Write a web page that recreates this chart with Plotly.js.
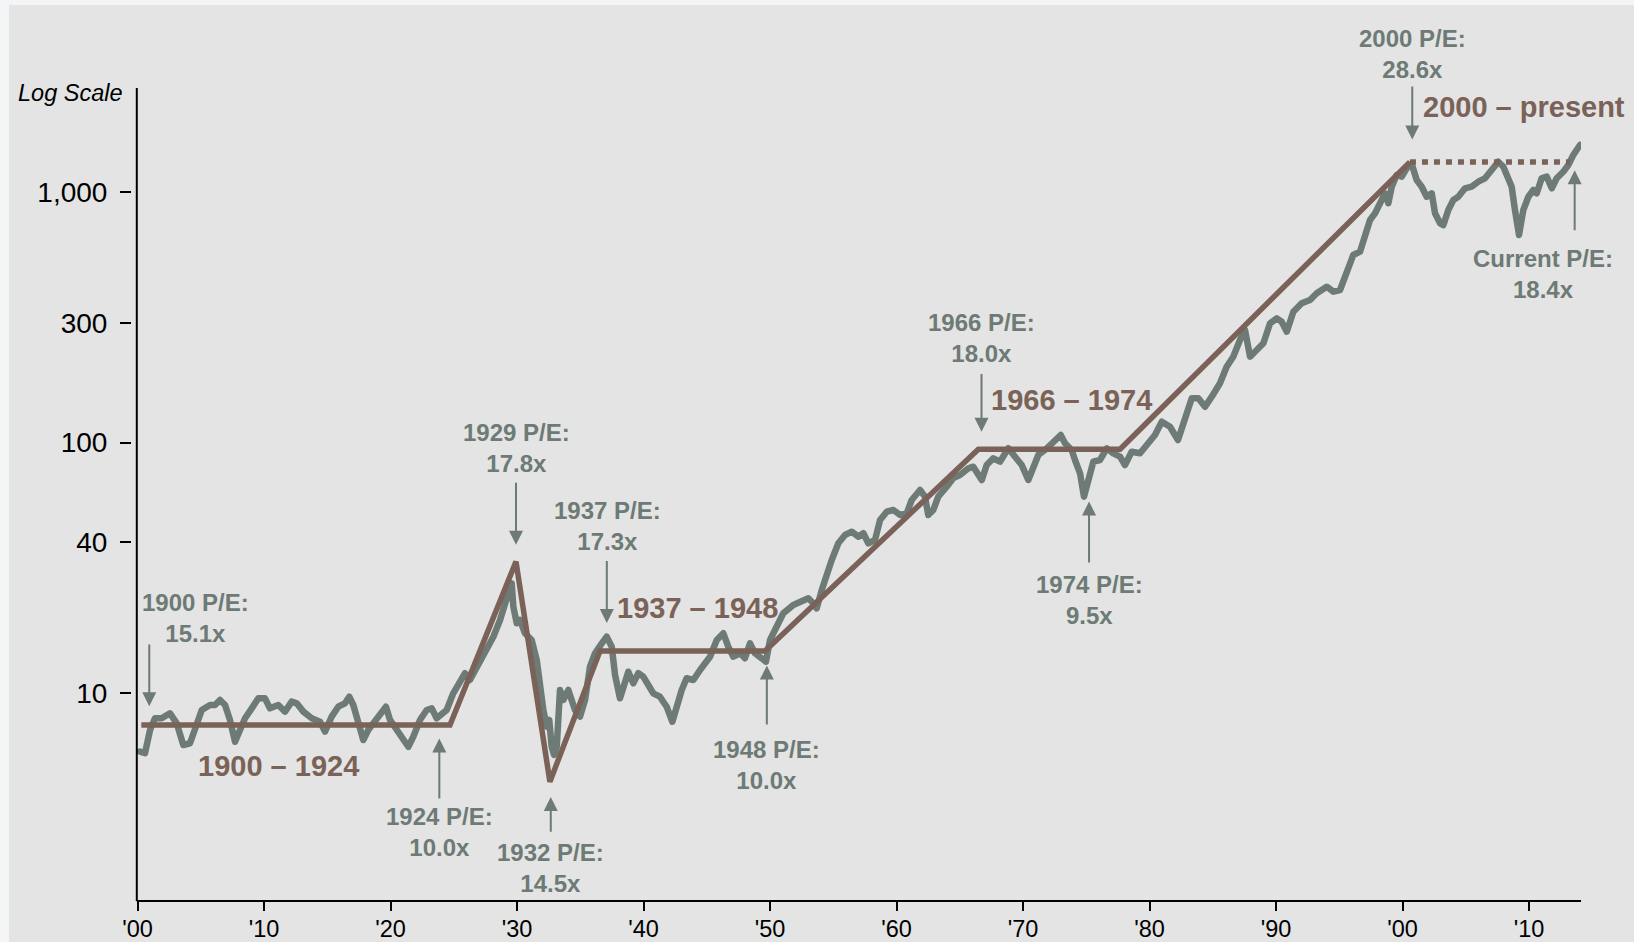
<!DOCTYPE html>
<html><head><meta charset="utf-8">
<script src="https://cdn.plot.ly/plotly-3.0.1.min.js"></script>
<style>
html,body{margin:0;padding:0;background:#f3f5f6;overflow:hidden;}
#chart{position:absolute;left:9px;top:5px;width:1625px;height:937px;}
.scatterlayer .trace:first-child path.js-line{stroke-linejoin:round;stroke-linecap:round;}
</style></head><body><div id="chart"></div>
<script>
// S&P 500 index (log scale)
const seriesYears = [1900.20,1900.59,1900.99,1901.38,1901.91,1902.57,1903.10,1903.62,1904.15,1904.55,1905.08,1905.73,1906.13,1906.52,1906.92,1907.31,1907.71,1908.10,1908.50,1909.03,1909.55,1910.08,1910.47,1911.13,1911.66,1912.19,1912.59,1913.11,1913.77,1914.43,1914.82,1915.35,1915.87,1916.40,1916.74,1917.06,1917.45,1917.85,1918.24,1918.77,1919.30,1919.64,1919.96,1920.49,1921.01,1921.41,1921.80,1922.33,1922.86,1923.26,1923.65,1924.05,1924.44,1924.96,1925.49,1925.89,1926.28,1926.68,1927.08,1927.60,1928.13,1928.66,1929.05,1929.31,1929.58,1929.71,1929.98,1930.24,1930.63,1931.16,1931.56,1931.82,1932.08,1932.35,1932.55,1932.74,1932.93,1933.14,1933.40,1933.66,1934.06,1934.32,1934.58,1934.98,1935.38,1935.77,1936.17,1936.70,1937.09,1937.49,1937.75,1938.14,1938.54,1938.80,1939.19,1939.59,1939.98,1940.38,1940.77,1941.30,1941.83,1942.28,1942.62,1943.02,1943.41,1943.94,1944.47,1945.26,1945.79,1946.31,1946.70,1947.10,1947.63,1948.02,1948.42,1948.81,1949.34,1949.68,1950.00,1950.53,1951.05,1951.84,1952.51,1953.03,1953.42,1953.69,1954.09,1954.48,1954.88,1955.40,1955.93,1956.46,1956.98,1957.38,1957.77,1958.30,1958.70,1959.23,1959.75,1960.28,1960.81,1961.20,1961.86,1962.25,1962.51,1962.91,1963.30,1963.97,1964.49,1965.02,1965.68,1966.07,1966.74,1967.13,1967.65,1968.18,1968.84,1969.37,1969.90,1970.42,1970.81,1971.21,1971.74,1972.27,1972.66,1972.98,1973.32,1973.85,1974.11,1974.51,1974.82,1975.16,1975.56,1976.09,1976.62,1977.14,1977.67,1978.06,1978.59,1979.25,1979.91,1980.43,1980.97,1981.62,1982.25,1982.81,1983.34,1983.86,1984.39,1984.92,1985.57,1986.10,1986.62,1987.15,1987.55,1987.95,1988.47,1989.00,1989.53,1990.06,1990.45,1990.85,1991.37,1992.03,1992.69,1993.22,1994.01,1994.53,1995.06,1995.59,1996.11,1996.64,1997.04,1997.43,1997.83,1998.22,1998.62,1998.88,1999.15,1999.54,1999.94,2000.33,2000.73,2001.12,2001.52,2001.91,2002.31,2002.57,2002.97,2003.23,2003.62,2004.02,2004.41,2004.94,2005.47,2005.99,2006.52,2007.05,2007.57,2007.97,2008.36,2008.63,2008.89,2009.21,2009.55,2009.95,2010.34,2010.61,2011.00,2011.40,2011.80,2012.19,2012.71,2013.11,2013.50,2014.03];
const seriesValues = [5.85,5.77,7.14,7.95,7.95,8.32,7.59,6.22,6.32,7.36,8.58,8.98,8.98,9.40,8.98,7.83,6.41,7.14,7.95,8.71,9.55,9.55,8.71,8.98,8.45,9.26,9.12,8.45,7.95,7.70,7.03,8.07,8.84,9.12,9.69,8.98,7.83,6.51,7.14,7.70,8.32,8.84,7.83,7.14,6.51,6.12,6.71,7.83,8.58,8.71,7.95,8.32,8.58,10.0,11.30,12.02,11.30,12.39,13.17,14.88,16.81,19.60,22.14,25.04,27.45,22.14,19.01,19.60,17.35,16.31,13.58,10.62,8.58,7.36,7.83,6.12,5.68,6.12,10.31,9.40,10.31,9.40,8.58,8.07,9.40,12.77,14.44,15.82,16.81,15.34,11.83,9.55,11.30,12.19,10.96,12.02,11.65,10.62,10.0,9.69,8.84,7.70,8.84,10.31,11.48,11.30,12.39,13.99,16.31,17.35,15.34,13.99,14.44,13.79,15.82,14.44,13.79,13.37,16.31,18.43,20.84,22.49,23.19,23.92,22.85,21.82,25.81,30.10,34.00,39.63,42.78,44.09,42.11,43.45,39.63,40.85,49.09,52.98,53.82,51.40,52.21,58.98,64.66,60.80,51.40,53.82,60.80,66.65,72.19,74.19,78.89,80.07,70.88,81.34,86.50,83.84,94.82,87.79,81.34,70.88,80.07,89.17,93.35,99.26,102.3,107.1,99.26,93.35,85.17,75.37,60.80,70.88,83.84,85.17,94.82,90.55,87.79,81.34,91.90,90.55,99.26,107.1,121.0,115.6,102.3,126.8,150.1,150.1,138.9,152.3,172.2,200.5,219.9,256.2,280.9,219.9,233.8,248.6,298.7,312.7,303.1,276.5,332.2,358.9,370.0,393.4,418.0,399.3,405.5,487.4,559.4,576.6,661.6,771.2,820.2,912.5,985.4,899.2,1047,1166,1148,1240,1290,1113,1047,955,985.4,820.2,748.2,736.6,845.3,926.8,955,1031.6,1047,1096,1131,1220,1317,1258,1148,1047,845.3,671.9,845.3,955,1016,985.4,1131,1148,1031.6,1131,1201,1278,1401,1536];

// Secular trend segments
const trendYears = [1900.3,1924.7,1929.92,1932.6,1936.56,1949.6,1966.47,1977.67,2000.59];
const trendValues = [7.47,7.47,33.5,4.44,14.75,14.75,94.0,94.0,1313];
const presentYears = [2000.59,2013.24];
const presentValues = [1313,1313];

// Axis ticks
const yTickValues = [10,40,100,300,1000];
const yTickLabels = ['10','40','100','300','1,000'];
const xTickYears = [1900,1910,1920,1930,1940,1950,1960,1970,1980,1990,2000,2010];
const xTickLabels = ["'00","'10","'20","'30","'40","'50","'60","'70","'80","'90","'00","'10"];

// P/E call-outs
const peTexts = ['1900 P/E:<br>15.1x','1924 P/E:<br>10.0x','1929 P/E:<br>17.8x','1932 P/E:<br>14.5x','1937 P/E:<br>17.3x','1948 P/E:<br>10.0x','1966 P/E:<br>18.0x','1974 P/E:<br>9.5x','Current P/E:<br>18.4x'];
const peYears = [1904.62,1923.91,1929.98,1932.62,1937.15,1949.76,1966.73,1975.22,2011.13];
const peValues = [19.96,2.786,95.5,2.011,46.38,5.20,262.0,23.63,471.9];
const arrowYears = [1900.93,1923.86,1929.92,1932.67,1937.1,1949.75,1966.72,1975.22,2000.77,2013.61];
const arrowValues = [8.58,6.82,37.85,3.99,18.46,13.33,106.7,60.13,1564,1258];
const arrowTails = [-67,65,-67,40,-67,64,-63,66,-58,65];

// Period labels
const periodTexts = ['1900 – 1924','1937 – 1948','1966 – 1974','2000 – present'];
const periodYears = [1911.11,1944.27,1973.83,2009.6];
const periodValues = [5.107,21.98,147.4,2186];

const GRAY = '#6d7a76';
const BROWN = '#7a6258';
const FONT = 'Liberation Sans, Arial, Helvetica, sans-serif';

const traces = [
  {x: seriesYears, y: seriesValues, type:'scatter', mode:'lines', line:{color:GRAY, width:6.5}, hoverinfo:'skip', cliponaxis:false},
  {x: trendYears, y: trendValues, type:'scatter', mode:'lines', line:{color:BROWN, width:5.5}, hoverinfo:'skip', cliponaxis:false},
  {x: presentYears, y: presentValues, type:'scatter', mode:'lines', line:{color:BROWN, width:5.5, dash:'6px,6px'}, hoverinfo:'skip', cliponaxis:false}
];

const annotations = [];
peTexts.forEach((t,i)=>annotations.push({x:peYears[i], y:Math.log10(peValues[i]), xref:'x', yref:'y', text:t, showarrow:false,
  xanchor:'center', yanchor:'middle', font:{family:FONT, size:24, color:GRAY, weight:'bold'}}));
annotations.push({x:0.88337, y:1.04207, xref:'paper', yref:'paper', text:'2000 P/E:<br>28.6x', showarrow:false,
  xanchor:'center', yanchor:'middle', font:{family:FONT, size:24, color:GRAY, weight:'bold'}});
arrowYears.forEach((yr,i)=>annotations.push({x:yr, y:Math.log10(arrowValues[i]), xref:'x', yref:'y', text:'', showarrow:true,
  ax:0, ay:arrowTails[i], arrowhead:2, arrowsize:1.4, arrowwidth:2, arrowcolor:GRAY, standoff:3.6}));
periodTexts.forEach((t,i)=>annotations.push({x:periodYears[i], y:Math.log10(periodValues[i]), xref:'x', yref:'y', text:t, showarrow:false,
  xanchor:'center', yanchor:'middle', font:{family:FONT, size:29, color:BROWN, weight:'bold'}}));
annotations.push({x:-0.04244, y:0.99446, xref:'paper', yref:'paper', text:'Log Scale', showarrow:false,
  xanchor:'center', yanchor:'middle', font:{family:FONT, size:23.5, color:'#000', style:'italic'}});

const axLineX = 4.8/1449;
const layout = {
  width:1625, height:937,
  margin:{l:123, r:53, t:83, b:41, pad:0},
  paper_bgcolor:'#e3e4e3', plot_bgcolor:'#e3e4e3',
  font:{family:FONT, color:'#000'},
  showlegend:false,
  xaxis:{range:[1899.565,2014.11], tickvals:xTickYears, ticktext:xTickLabels, ticks:'outside', ticklen:9, tickwidth:2, tickcolor:'#000',
    showline:false, showgrid:false, zeroline:false, tickfont:{size:23.5, color:'#000'}, ticklabelstandoff:-2, fixedrange:true},
  yaxis:{type:'log', range:[0.1718,3.4135], tickvals:yTickValues, ticktext:yTickLabels, ticks:'outside', ticklen:11, tickwidth:2, tickcolor:'#000',
    showline:false, showgrid:false, zeroline:false, tickfont:{size:28, color:'#000'}, ticklabelstandoff:7, fixedrange:true},
  shapes:[
    {type:'line', xref:'paper', yref:'paper', x0:axLineX, x1:axLineX, y0:0, y1:1, line:{color:'#000', width:2}},
    {type:'line', xref:'paper', yref:'paper', x0:axLineX, x1:1, y0:0, y1:0, line:{color:'#000', width:2}}
  ],
  annotations: annotations
};
Plotly.newPlot('chart', traces, layout, {displayModeBar:false, staticPlot:true});
</script></body></html>
